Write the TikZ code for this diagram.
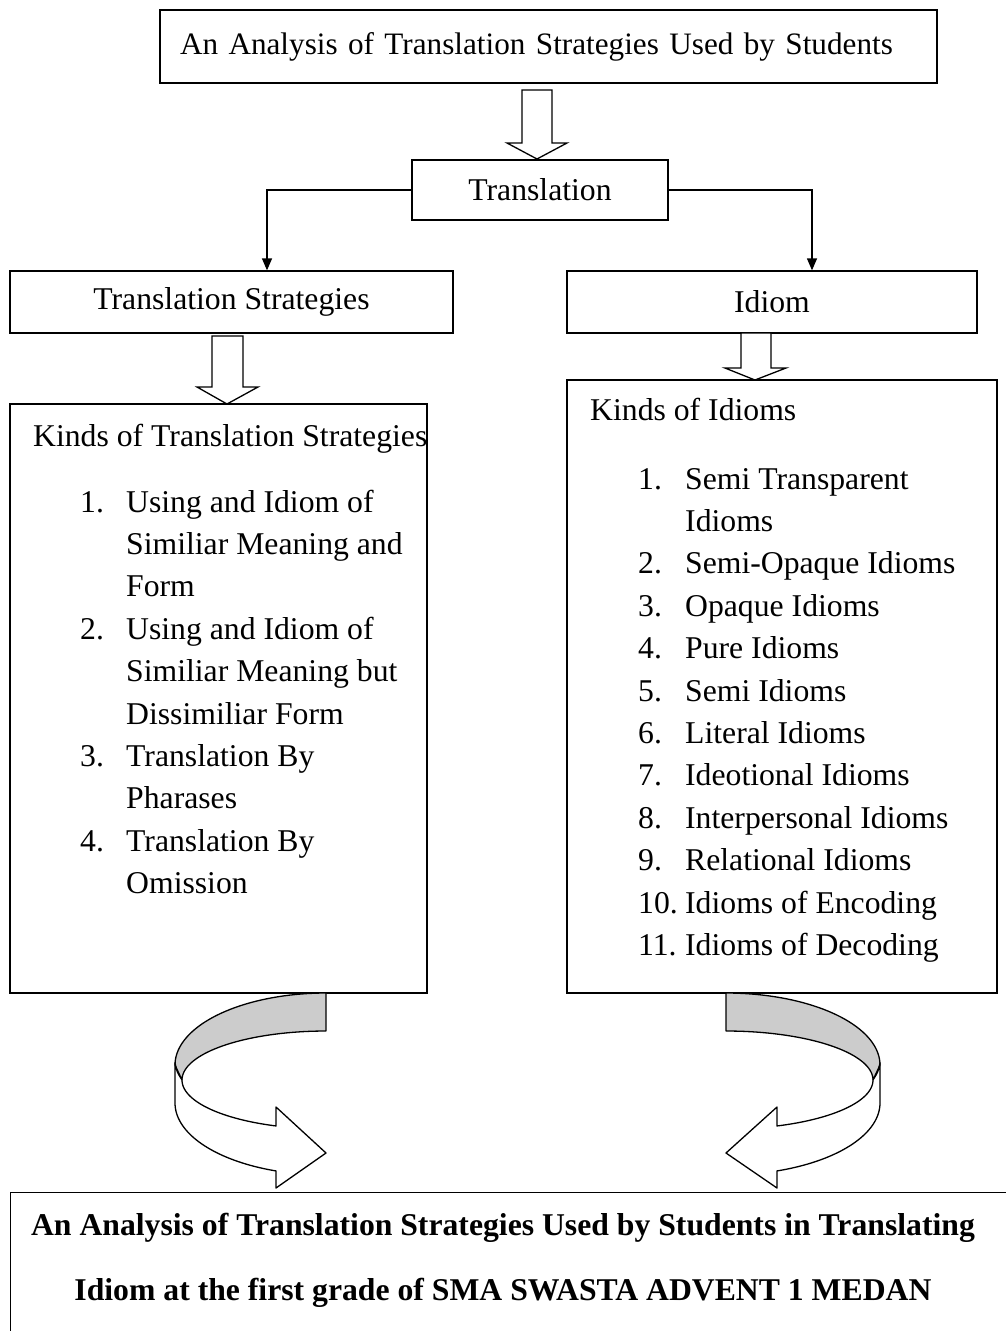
\documentclass[tikz,border=0pt]{standalone}
\usepackage{fontspec}
\setmainfont{Liberation Serif}
\usetikzlibrary{arrows.meta}
\begin{document}
\begin{tikzpicture}[x=1pt,y=-1pt,
  font=\fontsize{31.7}{42.4}\selectfont,
  box/.style={draw, inner sep=0pt, line width=1.3pt},
  txt/.style={inner sep=0pt},
  hollow/.style={draw, fill=white, line width=1.3pt, line join=miter},
  band/.style={draw, line width=1.3pt, line join=round},
  conn/.style={line width=1.3pt, -{Triangle[length=12pt,width=10pt]}}]
\useasboundingbox (0,0) rectangle (1005,1331);
\fill[white] (0,0) rectangle (1005,1331);

% boxes
\node[box, minimum width=777pt, minimum height=73pt, text width=737pt, align=left,
      font=\fontsize{31.2}{42.4}\selectfont] (top) at (548.5,46.5)
  {An Analysis of Translation Strategies Used by Students};
\node[box, minimum width=256pt, minimum height=60pt] (trans) at (540,190) {Translation};
\node[box, minimum width=443pt, minimum height=62pt] (strat) at (231.5,302) {\raisebox{2pt}{Translation Strategies}};
\node[box, minimum width=410pt, minimum height=62pt] (idiom) at (772,302) {\raisebox{2pt}{Idiom}};
\node[box, minimum width=417pt, minimum height=589pt] (kts) at (218.5,698.5) {};
\node[box, minimum width=430pt, minimum height=613pt] (kid) at (782,686.5) {};
\node[box, minimum width=1000pt, minimum height=160pt, anchor=north west] (res) at (10,1192) {};

% texts in big boxes
\node[txt, anchor=base west] (ktsh) at (33,446) {Kinds of Translation Strategies};
\node[txt, anchor=base west] (ktsl) at (80,512) {\begin{tabular}[t]{@{}p{46pt}@{}l@{}}
1. & Using and Idiom of\\
   & Similiar Meaning and\\
   & Form\\
2. & Using and Idiom of\\
   & Similiar Meaning but\\
   & Dissimiliar Form\\
3. & Translation By\\
   & Pharases\\
4. & Translation By\\
   & Omission
\end{tabular}};
\node[txt, anchor=base west] (kidh) at (590,420) {Kinds of Idioms};
\node[txt, anchor=base west] (kidl) at (638,489) {\begin{tabular}[t]{@{}p{47pt}@{}l@{}}
1. & Semi Transparent\\
   & Idioms\\
2. & Semi-Opaque Idioms\\
3. & Opaque Idioms\\
4. & Pure Idioms\\
5. & Semi Idioms\\
6. & Literal Idioms\\
7. & Ideotional Idioms\\
8. & Interpersonal Idioms\\
9. & Relational Idioms\\
10. & Idioms of Encoding\\
11. & Idioms of Decoding
\end{tabular}};

\node[txt, anchor=base, font=\fontsize{31.7}{42.4}\selectfont\bfseries] (r1) at (503,1235)
  {An Analysis of Translation Strategies Used by Students in Translating};
\node[txt, anchor=base, font=\fontsize{31.7}{42.4}\selectfont\bfseries] (r2) at (503,1300)
  {Idiom at the first grade of SMA SWASTA ADVENT 1 MEDAN};

% connectors
\draw[conn] (trans.west) -| ([xshift=35.5pt]strat.north);
\draw[conn] (trans.east) -| ([xshift=40pt]idiom.north);

% hollow block arrows
\draw[hollow] (522,90) -- (522,143) -- (507,143) -- (537,159) -- (567,143) -- (552,143) -- (552,90) -- cycle;
\draw[hollow] (212,336) -- (212,387) -- (197,387) -- (227,404) -- (258,387) -- (243,387) -- (243,336) -- cycle;
\draw[hollow] (741,333) -- (741,368) -- (725,368) -- (755,380) -- (786,368) -- (771,368) -- (771,333) -- cycle;

% left curved arrow
\filldraw[band, fill=gray!40]
  plot[domain=270:180, samples=40] ({326+151*cos(\x)},{1065+72*sin(\x)})
  -- plot[domain=180:270, samples=40] ({326+144*cos(\x)},{1080+49*sin(\x)}) -- cycle;
\filldraw[band, fill=white]
  (175,1063) -- plot[domain=180:109.3, samples=40] ({326+151*cos(\x)},{1103+72*sin(\x)})
  -- (276,1188) -- (326,1153) -- (276,1107)
  -- plot[domain=110.3:180, samples=40] ({326+144*cos(\x)},{1080+49*sin(\x)})
  .. controls (177,1072) .. (175,1063) -- cycle;

% right curved arrow
\filldraw[band, fill=gray!40]
  plot[domain=270:360, samples=40] ({726+154*cos(\x)},{1065+72*sin(\x)})
  -- plot[domain=0:-90, samples=40] ({726+147*cos(\x)},{1080+49*sin(\x)}) -- cycle;
\filldraw[band, fill=white]
  (880,1063) -- plot[domain=0:70.7, samples=40] ({726+154*cos(\x)},{1103+72*sin(\x)})
  -- (777,1188) -- (726,1153) -- (777,1107)
  -- plot[domain=69.7:0, samples=40] ({726+147*cos(\x)},{1080+49*sin(\x)})
  .. controls (878,1072) .. (880,1063) -- cycle;
\end{tikzpicture}
\end{document}
